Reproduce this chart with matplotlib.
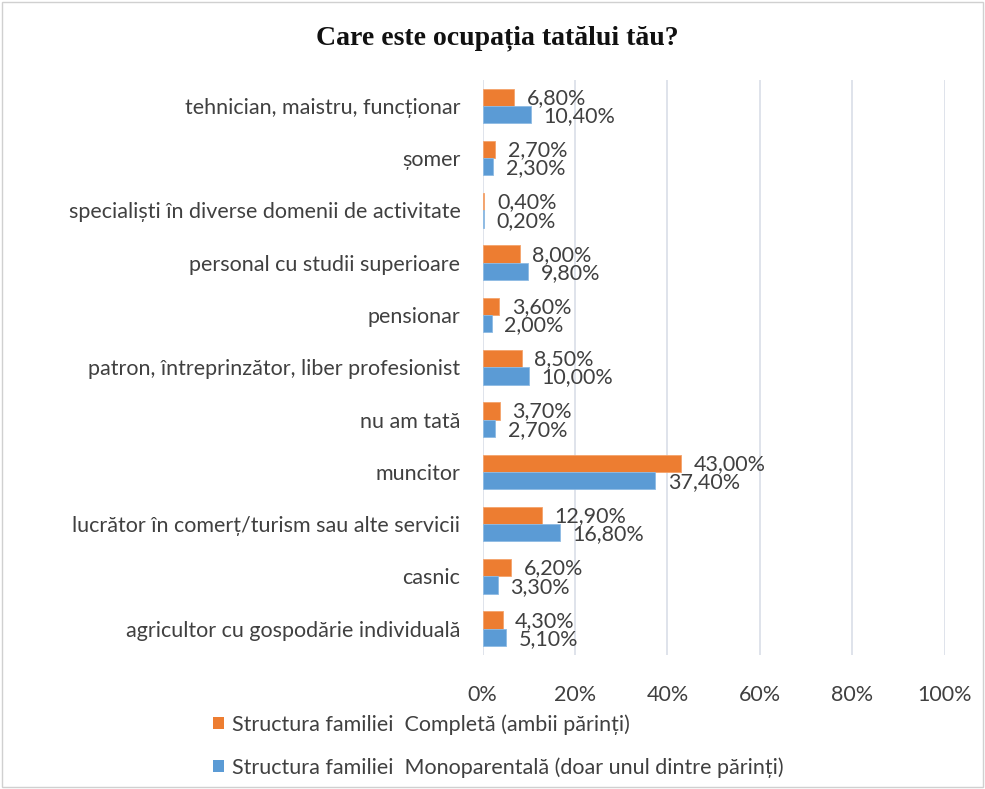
import matplotlib
matplotlib.use("Agg")
import matplotlib.pyplot as plt
from matplotlib.patches import Rectangle, Patch
import numpy as np

categories = [
    "agricultor cu gospodărie individuală",
    "casnic",
    "lucrător în comerț/turism sau alte servicii",
    "muncitor",
    "nu am tată",
    "patron, întreprinzător, liber profesionist",
    "pensionar",
    "personal cu studii superioare",
    "specialiști în diverse domenii de activitate",
    "șomer",
    "tehnician, maistru, funcționar",
]
completa = [4.3, 6.2, 12.9, 43.0, 3.7, 8.5, 3.6, 8.0, 0.4, 2.7, 6.8]
monoparentala = [5.1, 3.3, 16.8, 37.4, 2.7, 10.0, 2.0, 9.8, 0.2, 2.3, 10.4]
series_names = ["Structura familiei  Completă (ambii părinți)",
                "Structura familiei  Monoparentală (doar unul dintre părinți)"]
xticks = [0, 20, 40, 60, 80, 100]

orange = "#ED7D31"
blue = "#5B9BD5"
font = "Lato"
fs = 15.5

fig = plt.figure(figsize=(9.85, 7.89), dpi=100)
fig.patches.append(Rectangle((0.002, 0.002), 0.996, 0.996, transform=fig.transFigure,
                             fill=False, edgecolor="#D0D0D0", linewidth=1))
ax = fig.add_axes([0.49, 0.170, 0.469, 0.729])

y = np.arange(len(categories))
h = 0.33
ax.barh(y + h / 2, completa, height=h, color=orange, edgecolor="#F4A36B", linewidth=0.6, zorder=3)
ax.barh(y - h / 2, monoparentala, height=h, color=blue, edgecolor="#8DBBE4", linewidth=0.6, zorder=3)

for yi, v in zip(y, completa):
    ax.annotate(f"{v:.2f}%".replace(".", ","), (v, yi + h / 2 - 0.01), xytext=(9, 0),
                textcoords="offset points", va="center", ha="left",
                fontsize=fs, color="#404040", family=font, zorder=4)
for yi, v in zip(y, monoparentala):
    ax.annotate(f"{v:.2f}%".replace(".", ","), (v, yi - h / 2 - 0.03), xytext=(9, 0),
                textcoords="offset points", va="center", ha="left",
                fontsize=fs, color="#404040", family=font, zorder=4)

ax.set_xlim(0, 100)
ax.set_ylim(-0.5, 10.5)
ax.set_xticks(xticks)
ax.set_xticklabels([f"{t}%" for t in xticks], family=font, fontsize=fs, color="#404040")
ax.set_yticks(y)
ax.set_yticklabels(categories, family=font, fontsize=fs, color="#404040")
ax.tick_params(axis="both", length=0)
ax.tick_params(axis="x", pad=22)
ax.tick_params(axis="y", pad=16)
ax.grid(axis="x", color="#D9DEE8", linewidth=1.2, zorder=0)
for s in ax.spines.values():
    s.set_visible(False)

fig.suptitle("Care este ocupația tatălui tău?", x=0.505, y=0.968, fontsize=20,
             fontweight="bold", family="Liberation Serif", color="#111111")

handles = [Patch(facecolor=orange), Patch(facecolor=blue)]
fig.legend(handles, series_names, loc="upper left", bbox_to_anchor=(0.208, 0.106),
           frameon=False, prop={"family": font, "size": fs}, labelcolor="#404040",
           handlelength=0.5, handleheight=0.5, handletextpad=0.35, labelspacing=1.05,
           borderaxespad=0)

fig.savefig("out.png", dpi=100)
